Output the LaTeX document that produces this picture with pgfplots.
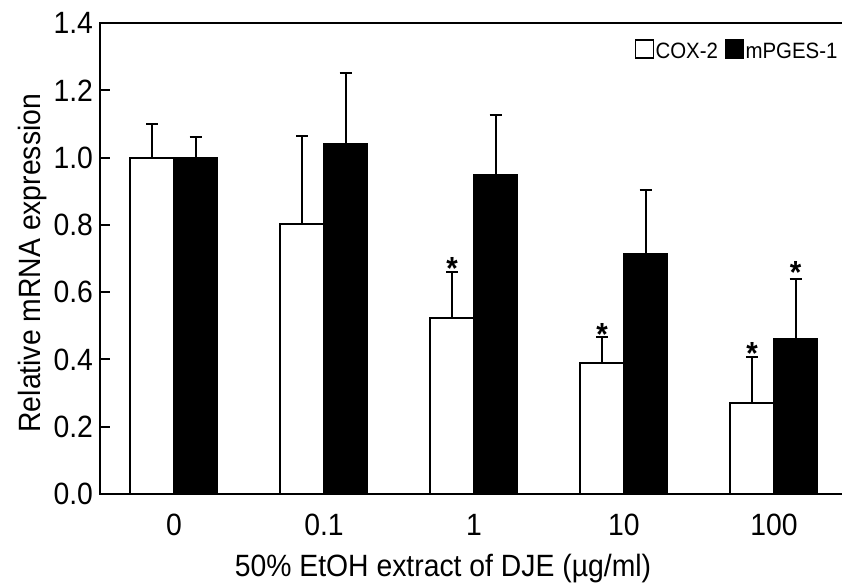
\documentclass[border=0pt]{standalone}
\usepackage{fontspec}
\setmainfont{Liberation Sans}[FakeStretch=0.92]
\usepackage{pgfplots}
\pgfplotsset{compat=1.18}

\newcommand{\lblfont}{\fontsize{15.4}{18}\selectfont}
\newcommand{\legfont}{\fontsize{11.1}{13}\selectfont}

\begin{document}
\begin{tikzpicture}
\begin{axis}[
    width=372pt, height=235.5pt, scale only axis,
    xmin=-0.493, xmax=4.467,
    ymin=0, ymax=1.4,
    ytick={0,0.2,0.4,0.6,0.8,1.0,1.2,1.4},
    yticklabel style={/pgf/number format/.cd, fixed, fixed zerofill, precision=1},
    /pgf/number format/assume math mode=true,
    xtick={0,1,2,3,4},
    xticklabels={0,0.1,1,10,100},
    xtick style={draw=none},
    xticklabel style={yshift=-6.5pt},
    ytick pos=left,
    tick align=inside,
    major tick length=5pt,
    ytick style={line width=1pt, black},
    axis line style={line width=1.2pt},
    tick label style={font=\lblfont},
    xlabel={50\% EtOH extract of DJE (µg/ml)},
    ylabel={Relative mRNA expression},
    every axis x label/.style={at={(axis description cs:0.461,-0.1762)}, anchor=base, font=\lblfont},
    every axis y label/.style={at={(axis description cs:-0.0806,0.49)}, rotate=90, anchor=base, font=\lblfont},
    legend columns=2,
    legend style={draw=none, fill=none, font=\legfont,
        at={(axis description cs:0.7204,1)}, anchor=north west,
        xshift=-0.6pt, yshift=-8pt, inner sep=0pt,
        nodes={inner sep=0.6pt},
        /tikz/every even column/.append style={column sep=3pt}},
]
% COX-2 (white bars, drawn at x-0.145 so the error bars sit on the bars)
\addplot[ybar, bar width=0.29, bar shift=0pt, fill=white, draw=black, line width=1pt,
    legend image code/.code={\draw[black, fill=white, line width=0.6pt] (0pt,-3pt) rectangle (9pt,6pt);},
    error bars/.cd, y dir=plus, y explicit,
    error mark options={rotate=90, mark size=3pt, line width=1pt, black},
    error bar style={line width=1pt, black}]
    coordinates {
        (-0.145,1.000) +- (0,0.100)
        (0.855,0.803) +- (0,0.262)
        (1.855,0.523) +- (0,0.137)
        (2.855,0.389) +- (0,0.078)
        (3.855,0.270) +- (0,0.137)
    };
\addlegendentry{COX-2}
% mPGES-1 (black bars)
\addplot[ybar, bar width=0.29, bar shift=0pt, fill=black, draw=black, line width=1pt,
    legend image code/.code={\draw[black, fill=black, line width=0.6pt] (0pt,-3pt) rectangle (9pt,6pt);},
    error bars/.cd, y dir=plus, y explicit,
    error mark options={rotate=90, mark size=3pt, line width=1pt, black},
    error bar style={line width=1pt, black}]
    coordinates {
        (0.145,1.000) +- (0,0.061)
        (1.145,1.040) +- (0,0.211)
        (2.145,0.948) +- (0,0.179)
        (3.145,0.713) +- (0,0.191)
        (4.145,0.461) +- (0,0.178)
    };
\addlegendentry{mPGES-1}
% significance stars
\addplot[draw=none, mark=none, nodes near coords={\bfseries *},
    every node near coord/.append style={anchor=center, text=black, font=\fontsize{16}{16}\selectfont}]
    coordinates {
        (1.855,0.670)
        (2.855,0.473)
        (3.855,0.417)
        (4.145,0.658)
    };
\end{axis}
\pgfresetboundingbox
\path[use as bounding box] (-50pt,-46.5pt) rectangle (371pt,247pt);
\end{tikzpicture}
\end{document}
